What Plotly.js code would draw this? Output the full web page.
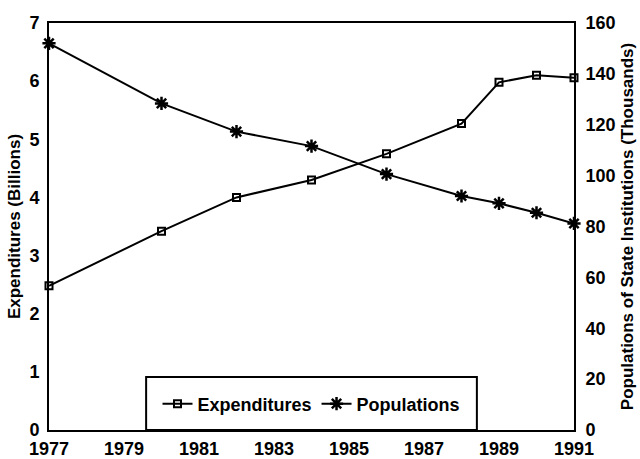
<!DOCTYPE html>
<html>
<head>
<meta charset="utf-8">
<script src="https://cdn.plot.ly/plotly-3.0.1.min.js"></script>
<style>html,body{margin:0;padding:0;background:#fff;}#chart{width:640px;height:459px;}</style>
</head>
<body>
<div id="chart"></div>
<script>
// Data
const years = [1977, 1980, 1982, 1984, 1986, 1988, 1989, 1990, 1991];
const expenditures = [2.48, 3.42, 4.0, 4.3, 4.75, 5.27, 5.98, 6.1, 6.06];
const populations = [152, 128.4, 117.3, 111.6, 100.6, 92, 89.1, 85.4, 81.2];
const xTickYears = [1977, 1979, 1981, 1983, 1985, 1987, 1989, 1991];
const xTickLabels = ['1977', '1979', '1981', '1983', '1985', '1987', '1989', '1991'];
const leftTicks = [0, 1, 2, 3, 4, 5, 6, 7];
const rightTicks = [0, 20, 40, 60, 80, 100, 120, 140, 160];
const seriesNames = ['Expenditures', 'Populations'];

const FAM = 'Liberation Sans, Arial, sans-serif';
const tickFont = {family: FAM, size: 18, color: '#000', weight: 700};
const titleFont = {family: FAM, size: 17, color: '#000', weight: 700};

const traces = [
  {
    x: years, y: expenditures, name: '<b>' + seriesNames[0] + '</b>', type: 'scatter', mode: 'lines+markers',
    line: {color: '#000', width: 2},
    marker: {symbol: 'square-open', size: 7, color: '#000', line: {color: '#000', width: 2}},
    cliponaxis: false, yaxis: 'y'
  },
  {
    x: years, y: populations, name: '<b>' + seriesNames[1] + '</b>', type: 'scatter', mode: 'lines+markers',
    line: {color: '#000', width: 2},
    marker: {symbol: 'asterisk-open', size: 11, color: '#000', line: {color: '#000', width: 2.5}},
    cliponaxis: false, yaxis: 'y2'
  }
];

const layout = {
  width: 640, height: 459,
  margin: {l: 49, r: 66, t: 23, b: 29, pad: 0},
  paper_bgcolor: '#fff', plot_bgcolor: '#fff',
  showlegend: true,
  legend: {
    orientation: 'h', x: 0.5, xanchor: 'center', y: 0.064, yanchor: 'middle',
    bgcolor: 'rgba(0,0,0,0)', borderwidth: 0,
    font: {family: FAM, size: 18, color: '#000', weight: 700},
    itemwidth: 30
  },
  xaxis: {
    range: [1977, 1991], tickmode: 'array', tickvals: xTickYears, ticktext: xTickLabels,
    showline: true, linecolor: '#000', linewidth: 2, mirror: true,
    showgrid: false, zeroline: false, ticks: '', tickfont: tickFont, ticklabelstandoff: 1
  },
  yaxis: {
    range: [0, 7], tickmode: 'array', tickvals: leftTicks,
    showline: true, linecolor: '#000', linewidth: 2,
    showgrid: false, zeroline: false, ticks: '', tickfont: tickFont, ticklabelstandoff: 4,
    title: {text: 'Expenditures (Billions)', font: titleFont, standoff: 4}
  },
  yaxis2: {
    range: [0, 160], tickmode: 'array', tickvals: rightTicks, overlaying: 'y', side: 'right',
    showline: true, linecolor: '#000', linewidth: 2,
    showgrid: false, zeroline: false, ticks: '', tickfont: tickFont, ticklabelstandoff: 6,
    title: {text: 'Populations of State Institutions (Thousands)', font: titleFont, standoff: 6}
  },
  shapes: [
    {type: 'rect', xref: 'paper', yref: 'paper', x0: 0.185, x1: 0.815, y0: 0, y1: 0.13,
     line: {color: '#000', width: 2}, fillcolor: 'rgba(0,0,0,0)'}
  ]
};

Plotly.newPlot('chart', traces, layout, {displayModeBar: false, staticPlot: true});
</script>
</body>
</html>
